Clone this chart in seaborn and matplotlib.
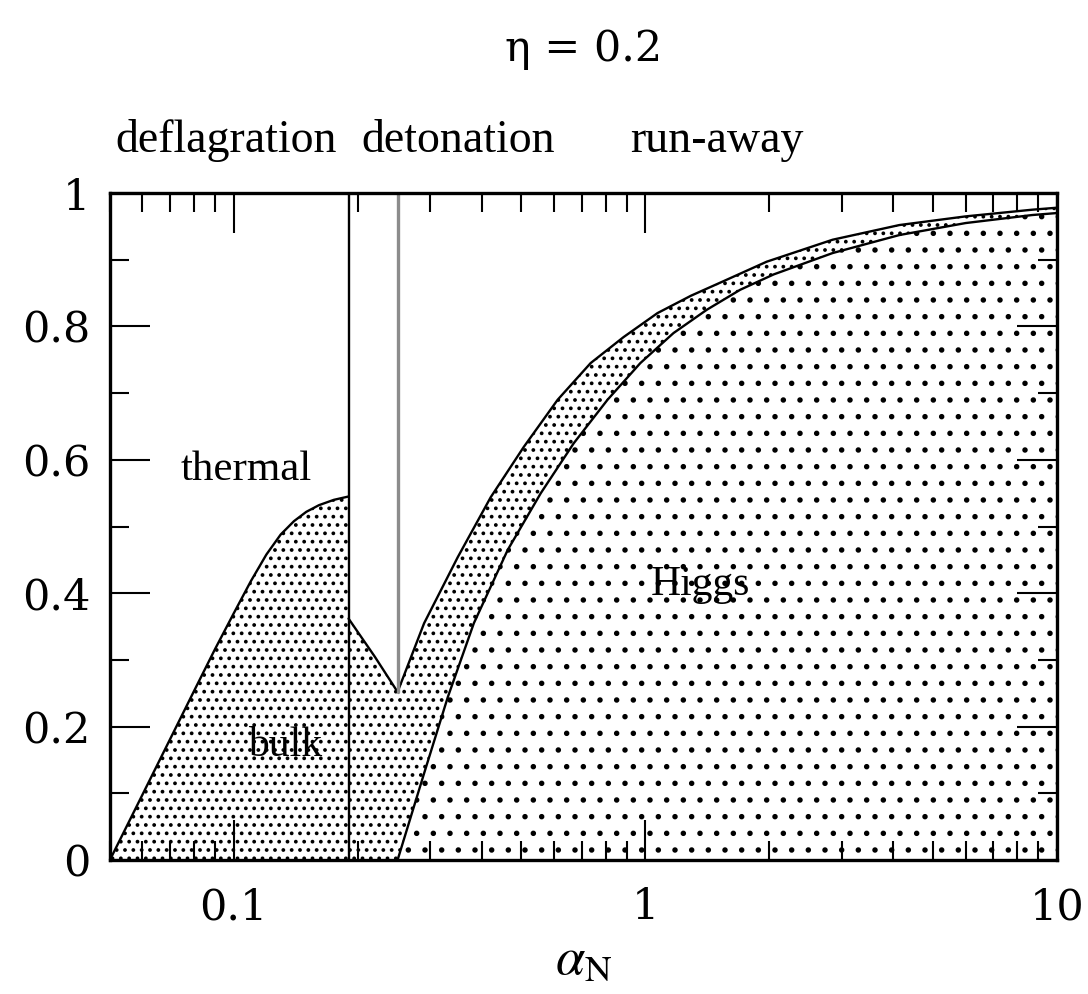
import numpy as np
import matplotlib
matplotlib.use("Agg")
import matplotlib.pyplot as plt
import matplotlib.transforms as mtransforms
from matplotlib.ticker import FixedLocator, NullFormatter, FixedFormatter
import seaborn as sns

# ---------------- data ----------------
# thermal / deflagration hump (0.05 .. 0.19)
x_thermal = [0.05, 0.06, 0.07, 0.08, 0.09, 0.10, 0.11, 0.12, 0.13, 0.14, 0.15,
             0.161, 0.175, 0.19]
y_thermal = [0.0, 0.098, 0.181, 0.253, 0.316, 0.37, 0.418, 0.458, 0.488, 0.508,
             0.522, 0.532, 0.540, 0.545]

# bulk curve in detonation window (0.19 .. 0.25)
x_bulk = [0.19, 0.22, 0.25]
y_bulk = [0.362, 0.305, 0.252]

# outer (thermal) boundary for alpha_N >= 0.25
x_outer = [0.25, 0.29, 0.35, 0.421, 0.506, 0.612, 0.736, 0.885, 1.07, 1.29,
           1.55, 1.97, 2.85, 4.14, 6.0, 8.7, 10.0]
y_outer = [0.252, 0.355, 0.454, 0.544, 0.619, 0.690, 0.745, 0.784, 0.820, 0.846,
           0.868, 0.897, 0.930, 0.952, 0.965, 0.975, 0.978]

# inner (Higgs) boundary for alpha_N >= 0.25
x_inner = [0.25, 0.29, 0.331, 0.383, 0.463, 0.557, 0.670, 0.809, 0.972, 1.17,
           1.41, 1.70, 2.05, 2.85, 4.14, 6.0, 8.7, 10.0]
y_inner = [0.0, 0.13, 0.244, 0.355, 0.465, 0.550, 0.625, 0.690, 0.745, 0.790,
           0.825, 0.855, 0.878, 0.910, 0.937, 0.955, 0.967, 0.970]

# regime boundaries
x_deflag_det = 0.19
x_det_run = 0.25

x_ticks = [0.1, 1, 10]
x_tick_labels = ["0.1", "1", "10"]
y_ticks = [0, 0.2, 0.4, 0.6, 0.8, 1.0]
y_tick_labels = ["0", "0.2", "0.4", "0.6", "0.8", "1"]

regime_labels = ["deflagration", "detonation", "run-away"]
regime_x = [0.0957, 0.35, 1.49]
region_labels = ["thermal", "bulk", "Higgs"]
region_x = [0.1075, 0.133, 1.36]
region_y = [0.585, 0.172, 0.412]
region_size = [31, 30, 30]

# ---------------- style ----------------
sns.set_theme(style="ticks")
plt.rcParams["font.family"] = ["Liberation Serif", "DejaVu Serif"]
plt.rcParams["mathtext.fontset"] = "stix"
plt.rcParams["hatch.color"] = "black"
plt.rcParams["hatch.linewidth"] = 1.5
plt.rcParams["text.color"] = "black"
plt.rcParams["axes.labelcolor"] = "black"
plt.rcParams["xtick.color"] = "black"
plt.rcParams["ytick.color"] = "black"

fig = plt.figure(figsize=(10.88, 9.94), dpi=100)
ax = fig.add_axes([0.101, 0.1348, 0.8705, 0.671])
ax.set_xscale("log")
ax.set_xlim(0.05, 10)
ax.set_ylim(0, 1)

# ---------------- fills ----------------
dense = dict(hatch="..", facecolor="none", edgecolor="black", linewidth=0)
sparse = dict(hatch=".", facecolor="none", edgecolor="black", linewidth=0)
ax.fill_between(x_thermal, 0, y_thermal, **dense)
ax.fill_between(x_bulk, 0, y_bulk, **dense)
ax.fill(np.concatenate([x_outer, x_inner[::-1]]),
        np.concatenate([y_outer, y_inner[::-1]]), **dense)
ax.fill(np.concatenate([x_inner, [10.0]]),
        np.concatenate([y_inner, [0.0]]), **sparse)

# ---------------- lines ----------------
lw = 1.7
for xs, ys in [(x_thermal, y_thermal), (x_bulk, y_bulk),
               (x_outer, y_outer), (x_inner, y_inner)]:
    sns.lineplot(x=xs, y=ys, ax=ax, color="black", linewidth=lw,
                 estimator=None, sort=False)
ax.plot([x_deflag_det, x_deflag_det], [0, 1], color="black", linewidth=lw)
ax.plot([x_det_run, x_det_run], [y_bulk[-1], 1], color="#8c8c8c", linewidth=2.4)

# ---------------- axes / ticks ----------------
for s in ax.spines.values():
    s.set_linewidth(2.4)
    s.set_color("black")
ax.xaxis.set_major_locator(FixedLocator(x_ticks))
ax.xaxis.set_major_formatter(FixedFormatter(x_tick_labels))
minor_x = [m * 10.0 ** e for e in (-2, -1, 0) for m in range(2, 10)]
minor_x = [v for v in minor_x if 0.05 <= v <= 10]
ax.xaxis.set_minor_locator(FixedLocator(minor_x))
ax.xaxis.set_minor_formatter(NullFormatter())
ax.yaxis.set_major_locator(FixedLocator(y_ticks))
ax.yaxis.set_major_formatter(FixedFormatter(y_tick_labels))
ax.yaxis.set_minor_locator(FixedLocator([0.1, 0.3, 0.5, 0.7, 0.9]))
ax.tick_params(which="both", direction="in", top=True, right=True,
               color="black", width=1.5)
ax.tick_params(which="major", length=29)
ax.tick_params(which="minor", length=14)
ax.tick_params(axis="x", which="major", pad=19)
ax.tick_params(axis="y", which="major", pad=14)
for lab in ax.get_xticklabels() + ax.get_yticklabels():
    lab.set_fontfamily("DejaVu Serif")
    lab.set_fontsize(31)
    lab.set_color("black")

ax.set_xlabel(r"$\alpha_{\mathrm{N}}$", fontsize=38, labelpad=6)
ax.set_ylabel("")

# ---------------- texts ----------------
trans = mtransforms.blended_transform_factory(ax.transData, ax.transAxes)
for t, xv in zip(regime_labels, regime_x):
    ax.text(xv, 1.079, t, transform=trans, ha="center", va="center", fontsize=33)
ax.text(0.5, 1.216, "η = 0.2", transform=ax.transAxes, ha="center",
        va="center", fontsize=31, fontfamily="DejaVu Serif")
for t, xv, yv, fs in zip(region_labels, region_x, region_y, region_size):
    ax.text(xv, yv, t, ha="center", va="center", fontsize=fs)

fig.savefig("out.png", dpi=100)
